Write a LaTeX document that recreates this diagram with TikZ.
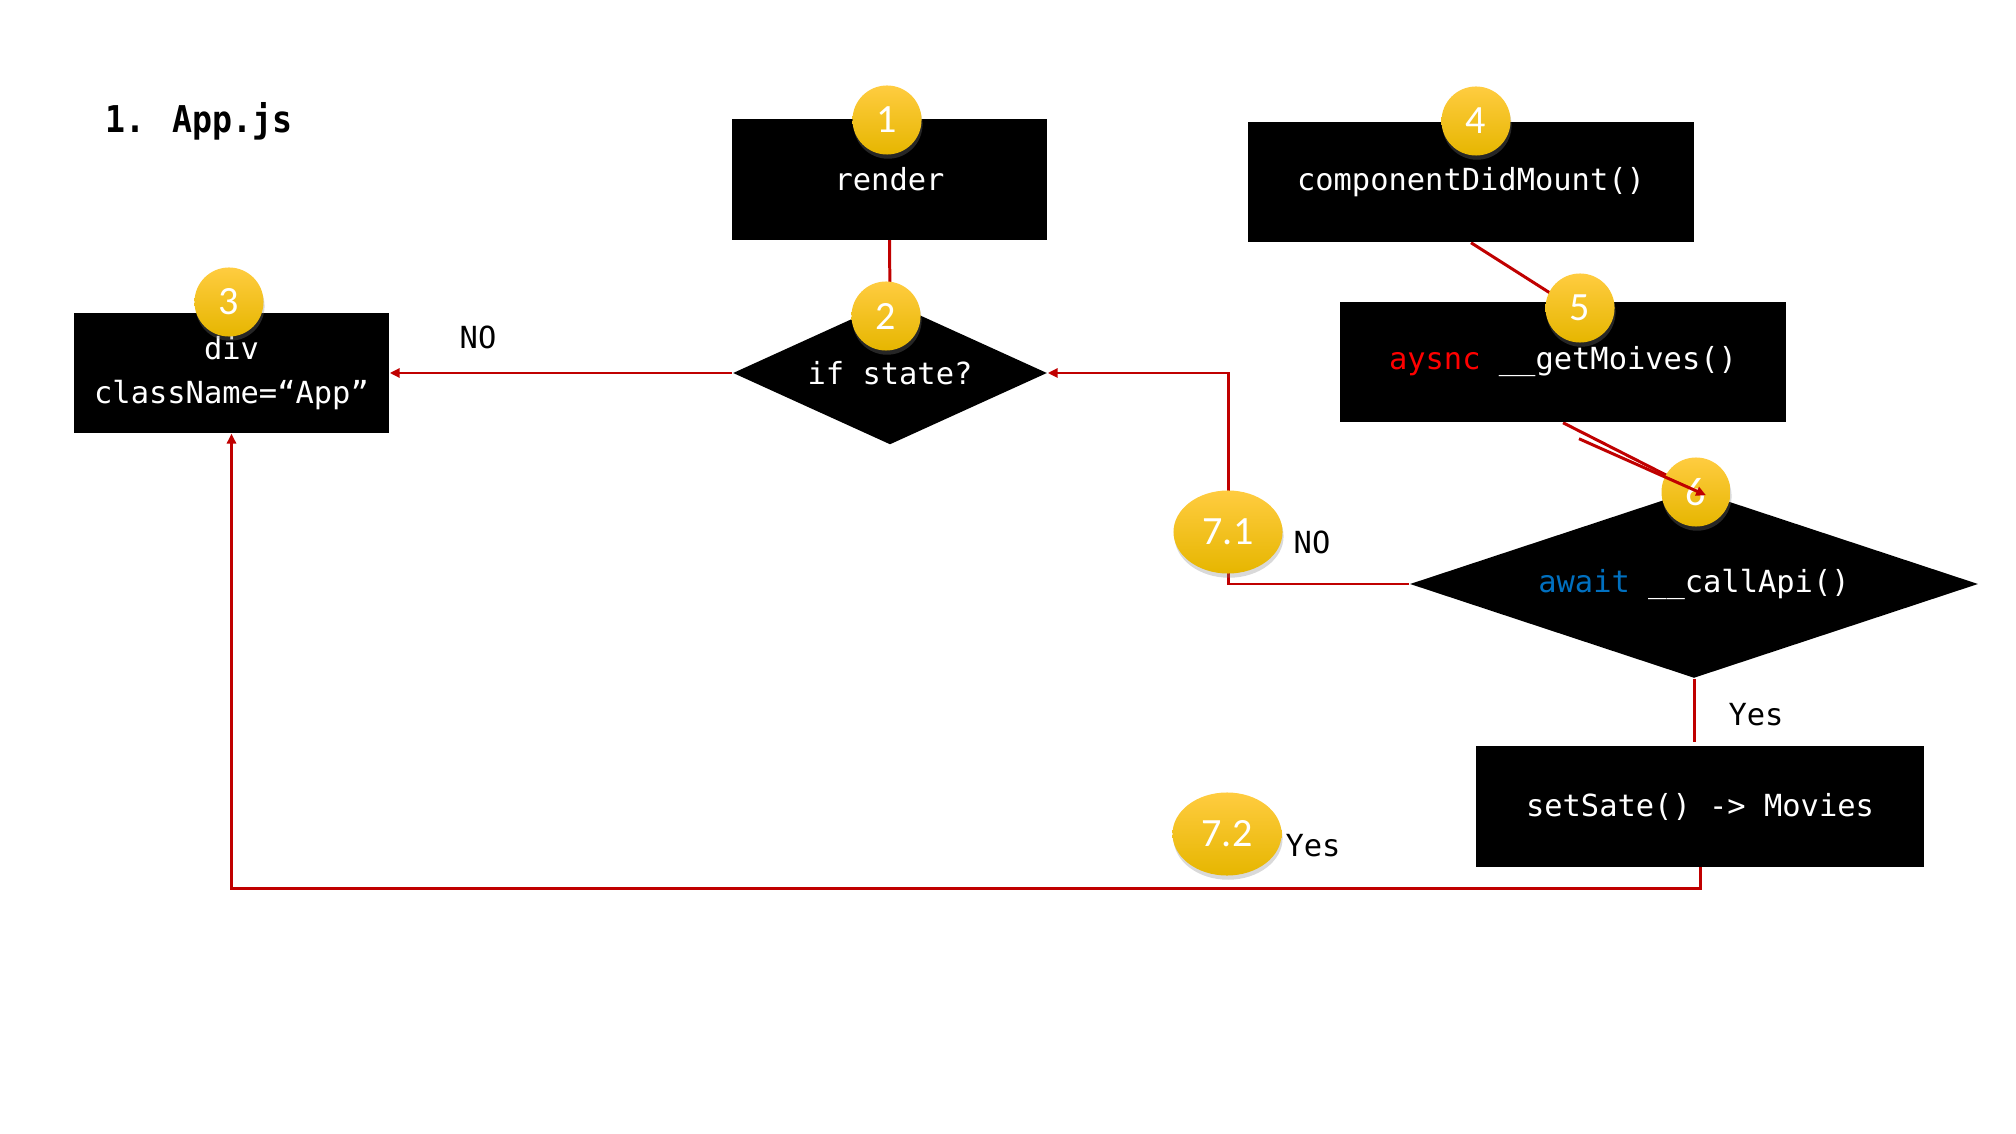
\documentclass[tikz,border=0pt]{standalone}
\usepackage{fontspec}
\setmainfont{DejaVu Sans Mono}
\setmonofont{DejaVu Sans Mono}
\newfontfamily\badgefont{Carlito}
\newfontfamily\titlefont{DejaVu Sans Mono}[FakeStretch=0.9]
\usepackage{tikz}
\usetikzlibrary{positioning}
\usetikzlibrary{shapes.geometric}
\usetikzlibrary{arrows.meta}
\usetikzlibrary{shadows}
\usetikzlibrary{backgrounds}
\definecolor{linkred}{RGB}{192,0,0}
\definecolor{keyred}{RGB}{255,0,0}
\definecolor{keyblue}{RGB}{0,112,192}
\definecolor{goldtop}{RGB}{255,204,64}
\definecolor{goldmid}{RGB}{255,198,0}
\definecolor{goldbot}{RGB}{230,182,0}

\begin{document}
\begin{tikzpicture}[x=0.01cm, y=-0.01cm,
>={Triangle[length=2.8pt,width=2.6pt]},
squarednode/.style={rectangle, fill=black, text=white, font=\fontsize{8.65}{10.4}\selectfont, inner sep=0pt, minimum height=1.20cm},
decisionnode/.style={diamond, fill=black, text=white, font=\fontsize{8.65}{10.4}\selectfont, inner sep=0pt},
badge/.style={circle, minimum size=0.69cm, inner sep=0pt, top color=goldtop, middle color=goldmid, bottom color=goldbot, text=white, font=\badgefont\fontsize{11.4}{12}\selectfont, drop shadow={shadow xshift=0.3pt, shadow yshift=-1.2pt, opacity=0.3}},
widebadge/.style={badge, ellipse, minimum width=1.09cm, minimum height=0.83cm},
linklabel/.style={font=\fontsize{8.65}{10.4}\selectfont, inner sep=0pt},
link/.style={draw=linkred, line width=0.85pt},
]
\useasboundingbox (0,0) rectangle (2016,1134);

%Nodes
\node[anchor=base west, inner sep=0pt, font=\titlefont\bfseries\fontsize{10.5}{12}\selectfont] (title) at (105,133) {1. App.js};
\node[squarednode, minimum width=3.15cm] (render) at (889.5,179.5) {render};
\node[decisionnode, shape aspect=2.2, minimum width=3.14cm, minimum height=1.43cm] (ifstate) at (890,373) {if state?};
\node[squarednode, minimum width=3.15cm, align=center] (app) at (231.5,373) {div\\[2.1pt]className=“App”};
\node[squarednode, minimum width=4.46cm] (mount) at (1471,182) {componentDidMount()};
\node[squarednode, minimum width=4.46cm] (getmovies) at (1563,362) {{\color{keyred}aysnc} \_\_getMoives()};
\node[decisionnode, shape aspect=3.02, minimum width=5.68cm, minimum height=1.88cm] (callapi) at (1694,584) {{\color{keyblue}await} \_\_callApi()};
\node[squarednode, minimum width=4.48cm] (setstate) at (1700,806.5) {setSate() -> Movies};

\node[linklabel] (no1) at (478,337) {NO};
\node[linklabel] (no2) at (1312,542) {NO};
\node[linklabel] (yes1) at (1756,715) {Yes};
\node[linklabel] (yes2) at (1313,846) {Yes};

%Badges
\node[badge] (b1) at (887,120) {1};
\node[badge] (b2) at (886,316) {2};
\node[badge] (b3) at (229,302) {3};
\node[badge] (b4) at (1476,121) {4};
\node[badge] (b5) at (1580,308) {5};
\node[badge] (b6) at (1696,492) {6};
\node[widebadge] (b71) at (1228,532) {7.1};
\node[widebadge] (b72) at (1227,834) {7.2};

%Lines
\begin{scope}[on background layer]
\draw[link] (render.south) -- (ifstate.north);
\draw[link, ->] (ifstate.west) -- (app.east);
\draw[link] (mount.south) -- (getmovies.north);
\draw[link] (getmovies.south) -- (callapi.north);
\draw[link, ->] (callapi.west) -| (b71.center) |- (ifstate.east);
\draw[link, shorten >=1pt] (callapi.south) -- (callapi.south |- setstate.north);
\draw[link, ->] (setstate.south) -- ++(0,21) -| (app.south);
\end{scope}
\draw[link, ->] ([shift={(16,16)}]getmovies.south) -- ([shift={(12,6)}]callapi.north);

\end{tikzpicture}
\end{document}
